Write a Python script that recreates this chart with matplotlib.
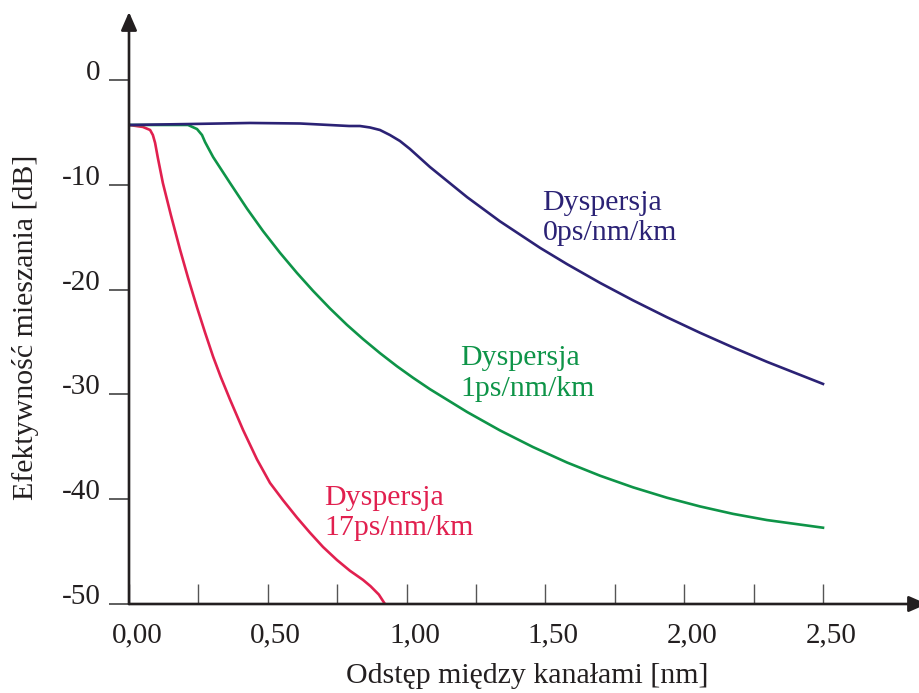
import matplotlib
matplotlib.use("Agg")
import matplotlib.pyplot as plt
from matplotlib.transforms import ScaledTranslation

plt.rcParams['font.family'] = ['Liberation Serif', 'DejaVu Serif']

# ---- data ----
x_blue = [0.0, 0.22, 0.436, 0.616, 0.793, 0.832, 0.868, 0.904, 0.94, 0.976, 1.012, 1.048, 1.084,
          1.218, 1.336, 1.481, 1.578, 1.697, 1.816, 1.938, 2.057, 2.176, 2.298, 2.5]
y_blue = [-4.29, -4.2, -4.1, -4.15, -4.39, -4.39, -4.53, -4.77, -5.25, -5.82, -6.58, -7.44, -8.3,
          -11.18, -13.48, -16.02, -17.57, -19.36, -21.03, -22.64, -24.12, -25.52, -26.89, -29.0]

x_green = [0.0, 0.2125, 0.245, 0.263, 0.274, 0.303, 0.364, 0.425, 0.483, 0.544, 0.605, 0.663, 0.724,
           0.785, 0.843, 0.904, 0.965, 1.023, 1.084, 1.218, 1.336, 1.455, 1.578, 1.697, 1.816,
           1.938, 2.057, 2.176, 2.298, 2.5]
y_green = [-4.29, -4.29, -4.68, -5.25, -5.92, -7.35, -9.83, -12.27, -14.42, -16.49, -18.41, -20.12, -21.80,
           -23.36, -24.72, -26.06, -27.31, -28.41, -29.50, -31.68, -33.43, -35.02, -36.50, -37.76, -38.87,
           -39.86, -40.69, -41.40, -41.99, -42.72]

x_red = [0.0, 0.05, 0.076, 0.086, 0.094, 0.104, 0.122, 0.151, 0.184, 0.213, 0.245, 0.274, 0.303,
         0.33, 0.364, 0.411, 0.461, 0.508, 0.555, 0.605, 0.652, 0.699, 0.749, 0.796, 0.843, 0.87, 0.9, 0.922]
y_red = [-4.29, -4.48, -4.77, -5.25, -6.0, -7.44, -9.83, -12.9, -16.2, -18.9, -21.7, -24.1, -26.4,
         -28.3, -30.5, -33.4, -36.2, -38.45, -40.1, -41.75, -43.2, -44.56, -45.8, -46.83, -47.7, -48.3, -49.1, -50.0]

x_ticks = [0.0, 0.5, 1.0, 1.5, 2.0, 2.5]
x_ticklabels = ["0,00", "0,50", "1,00", "1,50", "2,00", "2,50"]
x_minor = [0.25, 0.75, 1.25, 1.75, 2.25]
y_ticks = [0, -10, -20, -30, -40, -50]
y_ticklabels = ["0", "-10", "-20", "-30", "-40", "-50"]

labels = ["Dyspersja\n0ps/nm/km", "Dyspersja\n1ps/nm/km", "Dyspersja\n17ps/nm/km"]
label_pos = [(1.490, -10.5), (1.192, -25.3), (0.704, -38.6)]

c_blue = "#2B2275"
c_green = "#0E9448"
c_red = "#E1204F"
c_axis = "#231F20"

W, H = 919, 693
fig = plt.figure(figsize=(W / 100, H / 100), dpi=100)
# axes box: x from 129px to 919px, y from 0px (top) to 604px
x0px, sx = 129.0, 277.6
y0px, sy = 80.0, 10.48
ax = fig.add_axes([x0px / W, (H - 604) / H, (W - x0px) / W, 604 / H])
ax.set_xlim(0, (W - x0px) / sx)
ax.set_ylim(-50, y0px / sy)
for s in ax.spines.values():
    s.set_visible(False)
ax.patch.set_alpha(0)

ax.plot(x_red, y_red, color=c_red, lw=1.9, solid_joinstyle='round', zorder=3)
ax.plot(x_green, y_green, color=c_green, lw=1.9, solid_joinstyle='round', zorder=3)
ax.plot(x_blue, y_blue, color=c_blue, lw=1.9, solid_joinstyle='round', zorder=4)

# axis lines with arrows
ax.annotate('', xy=(0, (y0px - 12) / sy), xytext=(0, -50),
            arrowprops=dict(arrowstyle='-|>,head_length=0.55,head_width=0.24', mutation_scale=20,
                            color=c_axis, lw=1.9, shrinkA=0, shrinkB=0),
            annotation_clip=False, zorder=5)
ax.annotate('', xy=((927 - x0px) / sx, -50), xytext=(0, -50),
            arrowprops=dict(arrowstyle='-|>,head_length=0.55,head_width=0.24', mutation_scale=20,
                            color=c_axis, lw=1.9, shrinkA=0, shrinkB=0),
            annotation_clip=False, zorder=5)

# ticks
ax.set_xticks(x_ticks)
ax.set_xticklabels(x_ticklabels)
ax.set_xticks(x_minor, minor=True)
ax.tick_params(axis='x', which='both', direction='in', length=14.4, width=1.0, color='#555555',
               labelsize=21, pad=13, labelcolor=c_axis)
ax.set_yticks(y_ticks)
ax.set_yticklabels(y_ticklabels)
ax.tick_params(axis='y', direction='out', length=14.4, width=1.1, color='#333333',
               labelsize=21, pad=6, labelcolor=c_axis)

dx = ScaledTranslation(8 / 100, 0, fig.dpi_scale_trans)
for lab in ax.get_xticklabels():
    lab.set_transform(lab.get_transform() + dx)
dy = ScaledTranslation(0, 10 / 100, fig.dpi_scale_trans)
for lab in ax.get_yticklabels():
    lab.set_transform(lab.get_transform() + dy)

# axis labels
fig.text(527 / W, 1 - 676 / H, "Odstęp między kanałami [nm]", ha='center', va='center',
         fontsize=21.5, color=c_axis)
fig.text(26 / W, 1 - 327 / H, "Efektywność mieszania [dB]", ha='center', va='center',
         rotation=90, fontsize=21.5, color=c_axis)

# curve labels
for (tx, ty), txt, col in zip(label_pos, labels, [c_blue, c_green, c_red]):
    ax.text(tx, ty, txt, color=col, fontsize=21.5, ha='left', va='top', linespacing=1.22)

fig.savefig("out.png", dpi=100)
